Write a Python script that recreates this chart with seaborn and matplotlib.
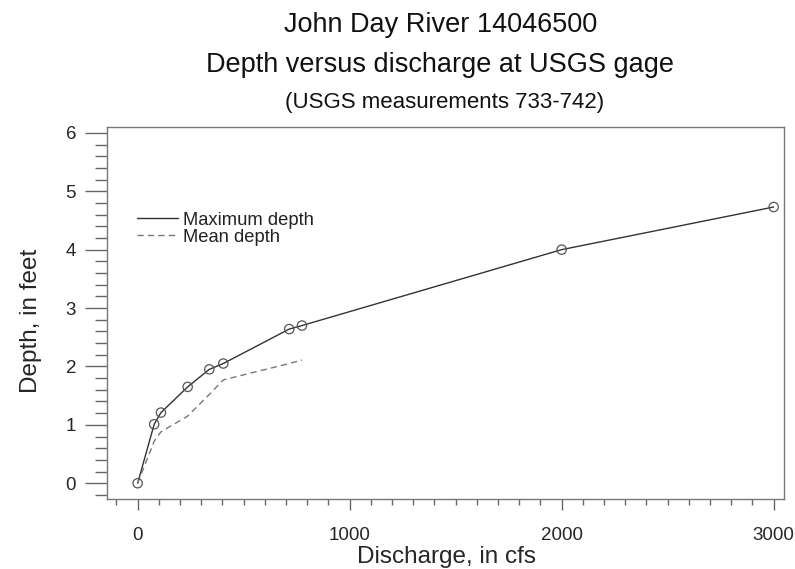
import matplotlib
matplotlib.use("Agg")
import matplotlib.pyplot as plt
import seaborn as sns
import pandas as pd
from matplotlib.ticker import MultipleLocator

discharge = [0, 78, 110, 236, 338, 404, 715, 775, 2000, 3000]
max_depth = [0, 1.01, 1.21, 1.65, 1.95, 2.05, 2.64, 2.70, 4.00, 4.73]
mean_discharge = [0, 78, 110, 236, 338, 404, 715, 775]
mean_depth = [0, 0.72, 0.88, 1.15, 1.52, 1.77, 2.05, 2.11]

sns.set_theme(style="ticks")
plt.rcParams["font.family"] = ["Liberation Sans", "DejaVu Sans"]

df_max = pd.DataFrame({"Discharge": discharge, "Depth": max_depth})
df_mean = pd.DataFrame({"Discharge": mean_discharge, "Depth": mean_depth})

fig = plt.figure(figsize=(7.95, 5.69), dpi=100)
ax = fig.add_axes([0.1342, 0.1230, 0.8523, 0.6538])

sns.lineplot(data=df_max, x="Discharge", y="Depth", ax=ax, color="#333333",
             linewidth=1.0, label="Maximum depth", sort=False)
sns.lineplot(data=df_mean, x="Discharge", y="Depth", ax=ax, color="#777777",
             linewidth=1.0, linestyle=(0, (4.5, 3)), label="Mean depth", sort=False)
sns.scatterplot(data=df_max, x="Discharge", y="Depth", ax=ax, marker="o", s=45,
                facecolor="none", edgecolor="#555555", linewidth=0.9, legend=False, zorder=3)

ax.set_xlim(-146, 3050)
ax.set_ylim(-0.27, 6.1)
ax.xaxis.set_major_locator(MultipleLocator(1000))
ax.xaxis.set_minor_locator(MultipleLocator(100))
ax.yaxis.set_major_locator(MultipleLocator(1))
ax.yaxis.set_minor_locator(MultipleLocator(0.2))

ax.tick_params(axis="x", which="major", length=8, width=1, color="#666666", pad=12, labelsize=13.5)
ax.tick_params(axis="x", which="minor", length=4, width=1, color="#666666")
ax.tick_params(axis="y", which="major", length=16, width=1, color="#666666", pad=6, labelsize=13.5)
ax.tick_params(axis="y", which="minor", length=8.5, width=1, color="#666666")
for sp in ax.spines.values():
    sp.set_color("#777777")
    sp.set_linewidth(1.0)
    sp.set_visible(True)

ax.set_xlabel("Discharge, in cfs", fontsize=17.5)
ax.set_ylabel("Depth, in feet", fontsize=17.5)
ax.xaxis.label.set_va("center")
ax.yaxis.label.set_va("center")
ax.xaxis.set_label_coords(0.502, -0.157)
ax.yaxis.set_label_coords(-0.112, 0.48)

leg = ax.legend(loc="upper left", bbox_to_anchor=(0.034, 0.792), frameon=False,
                handlelength=2.25, handletextpad=0.27, labelspacing=0.0,
                fontsize=13.2, borderaxespad=0)
for t in leg.get_texts():
    t.set_color("#222222")

fig.text(0.554, 0.956, "John Day River 14046500", ha="center", va="center", fontsize=19.5, color="#111111")
fig.text(0.554, 0.886, "Depth versus discharge at USGS gage", ha="center", va="center", fontsize=19.5, color="#111111")
fig.text(0.559, 0.820, "(USGS measurements 733-742)", ha="center", va="center", fontsize=16, color="#111111")

fig.savefig("out.png", dpi=100)
